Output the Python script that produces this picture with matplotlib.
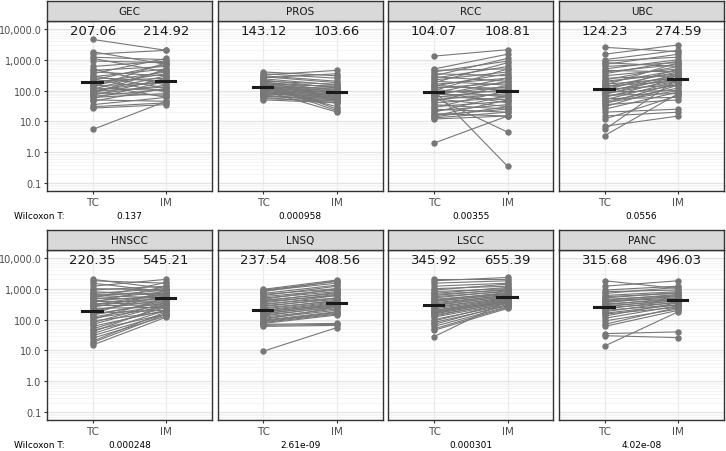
import numpy as np
import matplotlib
matplotlib.use("Agg")
import matplotlib.pyplot as plt
from matplotlib.ticker import FixedLocator, NullFormatter

# panel names, means shown on top, wilcoxon p values
panels = ["GEC", "PROS", "RCC", "UBC", "HNSCC", "LNSQ", "LSCC", "PANC"]
mean_tc = ["207.06", "143.12", "104.07", "124.23", "220.35", "237.54", "345.92", "315.68"]
mean_im = ["214.92", "103.66", "108.81", "274.59", "545.21", "408.56", "655.39", "496.03"]
pvals = ["0.137", "0.000958", "0.00355", "0.0556", "0.000248", "2.61e-09", "0.000301", "4.02e-08"]

# black bars (median per group)
bar_tc = [190, 131, 90, 113, 195, 210, 305, 263]
bar_im = [200, 90, 98, 240, 480, 355, 550, 445]

# paired values per patient
gec_tc = [4500, 1800, 1500, 1200, 1100, 900, 600, 500, 450, 400, 350, 300, 280, 260, 240, 220, 200, 180, 160, 150,
          140, 130, 120, 110, 100, 95, 90, 85, 80, 75, 70, 65, 60, 55, 50, 45, 35, 30, 27, 5.5]
gec_im = [2000, 700, 2000, 1000, 400, 800, 900, 150, 600, 300, 1100, 120, 500, 200, 90, 700, 250, 400, 60, 350,
          180, 800, 100, 450, 200, 130, 300, 70, 500, 150, 250, 110, 80, 200, 45, 120, 60, 40, 35, 45]

pros_tc = [400, 350, 320, 300, 280, 260, 240, 220, 200, 190, 180, 170, 160, 150, 145, 140, 135, 130, 125, 120,
           115, 110, 105, 100, 95, 90, 88, 85, 80, 75, 70, 68, 65, 60, 55, 50, 180, 150, 120, 100]
pros_im = [300, 250, 450, 200, 180, 350, 150, 120, 160, 100, 130, 90, 140, 110, 80, 95, 70, 120, 85, 65,
           100, 60, 75, 90, 55, 80, 50, 70, 60, 65, 45, 55, 50, 40, 45, 40, 25, 22, 30, 20]

rcc_tc = [1300, 500, 450, 400, 350, 300, 280, 250, 220, 200, 180, 160, 150, 140, 130, 120, 110, 100, 95, 90,
          85, 80, 75, 70, 65, 60, 55, 50, 45, 40, 35, 30, 28, 25, 22, 20, 18, 16, 15, 14, 13, 12, 100, 60, 2]
rcc_im = [2100, 1500, 500, 900, 300, 1100, 200, 600, 400, 150, 800, 250, 100, 350, 120, 180, 60, 500, 90, 40,
          250, 130, 70, 200, 50, 110, 30, 80, 150, 60, 25, 45, 100, 20, 35, 70, 15, 25, 50, 30, 20, 15, 0.35, 4.5, 15]

ubc_tc = [2500, 1500, 1000, 900, 800, 700, 600, 500, 450, 400, 350, 300, 250, 220, 200, 180, 160, 150, 140, 130,
          120, 110, 100, 95, 90, 85, 80, 75, 70, 65, 60, 55, 50, 45, 40, 38, 35, 30, 25, 20, 15, 12, 7, 5.5, 3.5]
ubc_im = [1800, 3000, 2000, 1200, 600, 1500, 800, 1000, 400, 700, 900, 500, 300, 600, 350, 450, 250, 800, 200, 400,
          300, 150, 500, 250, 100, 350, 200, 300, 80, 150, 250, 60, 200, 120, 100, 180, 50, 150, 90, 25, 20, 70, 15, 250, 80]

hnscc_tc = [2000, 1800, 1500, 1200, 1000, 900, 800, 700, 650, 600, 550, 500, 450, 400, 380, 350, 320, 300, 280, 250,
            230, 200, 180, 160, 150, 140, 120, 110, 100, 90, 80, 70, 60, 50, 45, 40, 35, 30, 25, 20, 18, 15, 500, 300, 150]
hnscc_im = [1000, 1500, 800, 2000, 900, 1200, 600, 1000, 700, 500, 900, 450, 800, 600, 400, 1200, 350, 500, 300, 700,
            250, 450, 600, 200, 350, 400, 300, 250, 500, 180, 350, 300, 200, 250, 150, 300, 200, 150, 130, 180, 150, 120,
            1600, 700, 900]

lnsq_tc = [950, 900, 850, 800, 700, 650, 600, 550, 500, 450, 420, 400, 380, 350, 320, 300, 280, 260, 240, 220,
           200, 190, 180, 170, 160, 150, 140, 130, 120, 110, 100, 95, 90, 85, 80, 75, 70, 65, 60, 9.5]
lnsq_im = [1900, 1700, 1500, 1800, 1300, 1000, 1200, 900, 800, 1000, 700, 750, 600, 650, 500, 600, 450, 500, 400, 420,
           380, 350, 300, 330, 280, 300, 250, 270, 220, 200, 250, 180, 170, 160, 150, 140, 75, 70, 65, 55]

lscc_tc = [2000, 1800, 1500, 1200, 1000, 900, 800, 700, 650, 600, 550, 500, 450, 420, 400, 380, 350, 320, 300, 280,
           260, 240, 220, 200, 190, 180, 170, 160, 150, 140, 130, 120, 100, 90, 80, 70, 60, 50, 45, 28]
lscc_im = [2000, 2300, 1800, 1500, 1200, 1400, 1000, 1100, 900, 950, 800, 850, 700, 750, 650, 700, 600, 620, 550, 580,
           500, 520, 480, 450, 460, 420, 400, 380, 420, 350, 380, 330, 300, 350, 280, 300, 260, 250, 230, 400]

panc_tc = [1800, 1200, 900, 800, 700, 600, 550, 500, 450, 420, 400, 380, 350, 320, 300, 280, 260, 240, 220, 200,
           180, 160, 150, 130, 110, 90, 70, 60, 35, 30, 14]
panc_im = [1000, 1800, 1200, 900, 1100, 800, 700, 750, 600, 650, 550, 500, 600, 450, 500, 400, 450, 350, 420, 300,
           380, 300, 250, 350, 280, 220, 250, 200, 40, 26, 180]

tc_data = [gec_tc, pros_tc, rcc_tc, ubc_tc, hnscc_tc, lnsq_tc, lscc_tc, panc_tc]
im_data = [gec_im, pros_im, rcc_im, ubc_im, hnscc_im, lnsq_im, lscc_im, panc_im]

W, H = 726, 452
fig = plt.figure(figsize=(W / 100, H / 100), dpi=100)

gray = "#777777"
txt = "#4d4d4d"
majors = [0.1, 1, 10, 100, 1000, 10000]
minors = [m * d for d in [0.01, 0.1, 1, 10, 100, 1000, 10000] for m in range(2, 10)]

for i, name in enumerate(panels):
    row, col = divmod(i, 4)
    left = 47 + col * 170.7
    top = 22 if row == 0 else 251
    bottom = 192 if row == 0 else 421
    ax = fig.add_axes([left / W, 1 - bottom / H, 165 / W, (bottom - top) / H])
    ax.set_yscale("log")
    ax.set_ylim(10 ** -1.25, 10 ** 4.25)
    ax.set_xlim(0.38, 2.62)
    ax.yaxis.set_major_locator(FixedLocator(majors))
    ax.yaxis.set_minor_locator(FixedLocator(minors))
    ax.yaxis.set_minor_formatter(NullFormatter())
    ax.grid(True, which="major", axis="y", color="#e3e3e3", lw=0.9)
    ax.grid(True, which="minor", axis="y", color="#f0f0f0", lw=0.5)
    ax.axvline(1, color="#ebebeb", lw=0.9, zorder=0)
    ax.axvline(2, color="#ebebeb", lw=0.9, zorder=0)
    ax.set_axisbelow(True)

    tc = tc_data[i]
    im = im_data[i]
    for a, b in zip(tc, im):
        ax.plot([1, 2], [a, b], color=gray, lw=0.8, zorder=2)
    ax.plot([1] * len(tc), tc, "o", color=gray, ms=3.6, zorder=3)
    ax.plot([2] * len(im), im, "o", color=gray, ms=3.6, zorder=3)
    ax.plot([0.86, 1.12], [bar_tc[i]] * 2, color="#1a1a1a", lw=2.2, zorder=4)
    ax.plot([1.86, 2.12], [bar_im[i]] * 2, color="#1a1a1a", lw=2.2, zorder=4)

    ax.text(1, 10 ** 3.93, mean_tc[i], ha="center", va="center", fontsize=9.5, color="#1a1a1a")
    ax.text(2, 10 ** 3.93, mean_im[i], ha="center", va="center", fontsize=9.5, color="#1a1a1a")

    ax.set_xticks([1, 2])
    ax.set_xticklabels(["TC", "IM"], fontsize=7.5, color=txt)
    ax.tick_params(axis="x", length=2.5, color="#333333", pad=2)
    ax.tick_params(axis="y", which="minor", length=0)
    if col == 0:
        ax.set_yticklabels(["0.1", "1.0", "10.0", "100.0", "1,000.0", "10,000.0"], fontsize=7, color=txt)
        ax.tick_params(axis="y", which="major", length=2.5, color="#333333", pad=1.5)
    else:
        ax.tick_params(axis="y", which="major", length=0, labelleft=False)
    for s in ax.spines.values():
        s.set_color("#333333")
        s.set_linewidth(1.0)

    # strip on top
    sax = fig.add_axes([left / W, 1 - top / H, 165 / W, 20 / H])
    sax.set_facecolor("#d9d9d9")
    sax.set_xticks([])
    sax.set_yticks([])
    for s in sax.spines.values():
        s.set_color("#333333")
        s.set_linewidth(1.0)
    sax.text(0.5, 0.5, name, ha="center", va="center", fontsize=7.5, color="#1a1a1a", transform=sax.transAxes)

    # p value under each panel
    py = 217 if row == 0 else 446
    fig.text((left + 82.5) / W, 1 - py / H, pvals[i], ha="center", va="center", fontsize=6.5, color="#000000")

fig.text(14 / W, 1 - 217 / H, "Wilcoxon T:", ha="left", va="center", fontsize=6.5, color="#000000")
fig.text(14 / W, 1 - 446 / H, "Wilcoxon T:", ha="left", va="center", fontsize=6.5, color="#000000")

fig.savefig("out.png", dpi=100, facecolor="white")
